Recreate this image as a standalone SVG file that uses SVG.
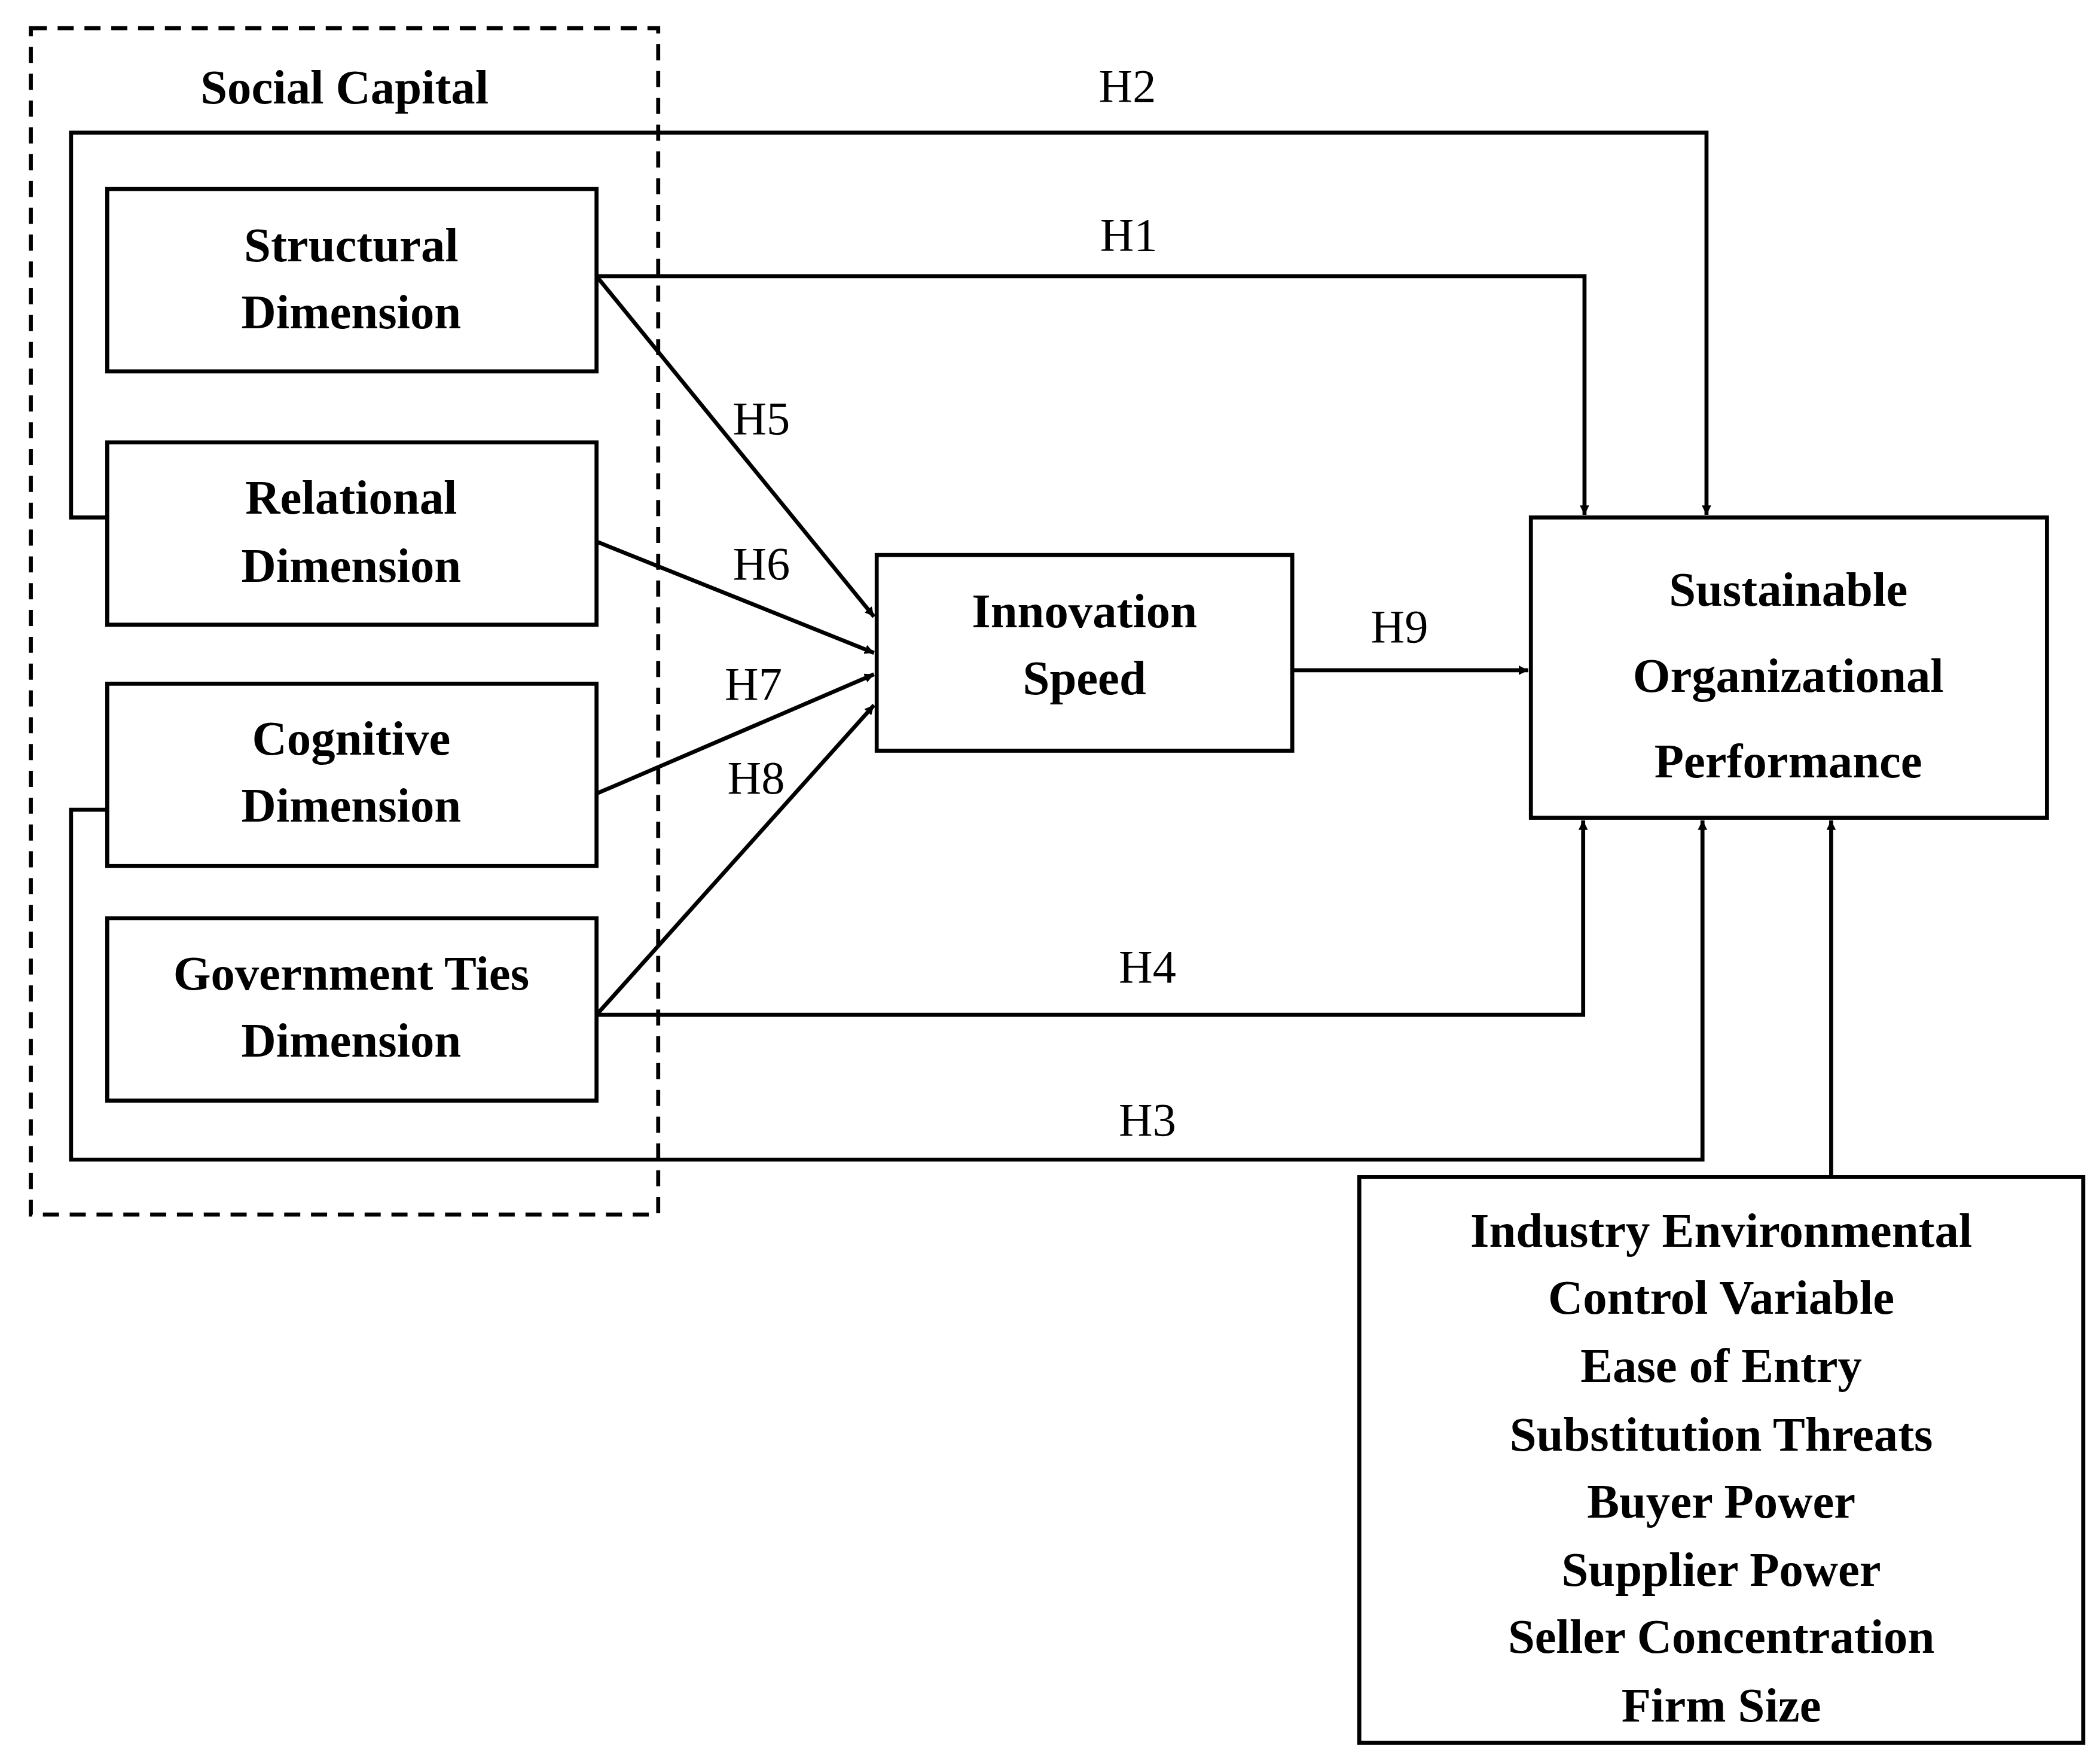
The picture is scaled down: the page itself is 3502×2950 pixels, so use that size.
<svg xmlns="http://www.w3.org/2000/svg" width="3502" height="2950" viewBox="0 0 3502 2950">
<style>
.b{fill:#fff;stroke:#000;stroke-width:3}
.t{font-family:"Liberation Serif",serif;font-weight:bold;font-size:36px;text-anchor:middle;fill:#000}
.l{font-family:"Liberation Serif",serif;font-size:35px;text-anchor:middle;fill:#000}
.c{fill:none;stroke:#000;stroke-width:3}
</style>
<defs><marker id="a" viewBox="0 0 10 10" refX="10" refY="5" markerWidth="7" markerHeight="7" markerUnits="userSpaceOnUse" orient="auto"><path d="M0,0L10,5L0,10z"/></marker></defs>
<rect width="3502" height="2950" fill="#fff"/>
<g transform="scale(2.2419)">
<g id="social-capital"><rect x="23" y="21" width="468" height="885" fill="none" stroke="#000" stroke-width="3" stroke-dasharray="12,8"/><text class="t" x="257" y="77">Social Capital</text></g>
<g id="connectors">
<g marker-end="url(#a)" style="--x:0">
<path class="c" d="M80,386H53V99H1273V384" marker-end="url(#a)"/>
<path class="c" d="M445,206H1182V384" marker-end="url(#a)"/>
<path class="c" d="M445,206L652,460" marker-end="url(#a)"/>
<path class="c" d="M445,404L652,487" marker-end="url(#a)"/>
<path class="c" d="M445,592L652,503" marker-end="url(#a)"/>
<path class="c" d="M445,757L652,526" marker-end="url(#a)"/>
<path class="c" d="M964,500H1140" marker-end="url(#a)"/>
<path class="c" d="M445,757H1181V612" marker-end="url(#a)"/>
<path class="c" d="M80,604H53V865H1270V612" marker-end="url(#a)"/>
<path class="c" d="M1366,878V612" marker-end="url(#a)"/>
</g>
<text class="l" x="841" y="76">H2</text>
<text class="l" x="842" y="187">H1</text>
<text class="l" x="568" y="324">H5</text>
<text class="l" x="568" y="432">H6</text>
<text class="l" x="562" y="522">H7</text>
<text class="l" x="564" y="592">H8</text>
<text class="l" x="1044" y="479">H9</text>
<text class="l" x="856" y="733">H4</text>
<text class="l" x="856" y="847">H3</text>
</g>
<g id="structural"><rect class="b" x="80" y="141" width="365" height="136"/><text class="t" x="262" y="195">Structural</text><text class="t" x="262" y="245">Dimension</text></g>
<g id="relational"><rect class="b" x="80" y="330" width="365" height="136"/><text class="t" x="262" y="383">Relational</text><text class="t" x="262" y="434">Dimension</text></g>
<g id="cognitive"><rect class="b" x="80" y="510" width="365" height="136"/><text class="t" x="262" y="563">Cognitive</text><text class="t" x="262" y="613">Dimension</text></g>
<g id="government"><rect class="b" x="80" y="685" width="365" height="136"/><text class="t" x="262" y="738">Government Ties</text><text class="t" x="262" y="788">Dimension</text></g>
<g id="innovation"><rect class="b" x="654" y="414" width="310" height="146"/><text class="t" x="809" y="468">Innovation</text><text class="t" x="809" y="518">Speed</text></g>
<g id="performance"><rect class="b" x="1142" y="386" width="385" height="224"/><text class="t" x="1334" y="452">Sustainable</text><text class="t" x="1334" y="516">Organizational</text><text class="t" x="1334" y="580">Performance</text></g>
<g id="control"><rect class="b" x="1014" y="878" width="540" height="422"/>
<text class="t" x="1284" y="930">Industry Environmental</text>
<text class="t" x="1284" y="980">Control Variable</text>
<text class="t" x="1284" y="1031">Ease of Entry</text>
<text class="t" x="1284" y="1082">Substitution Threats</text>
<text class="t" x="1284" y="1132">Buyer Power</text>
<text class="t" x="1284" y="1183">Supplier Power</text>
<text class="t" x="1284" y="1233">Seller Concentration</text>
<text class="t" x="1284" y="1284">Firm Size</text></g>
</g>
</svg>
